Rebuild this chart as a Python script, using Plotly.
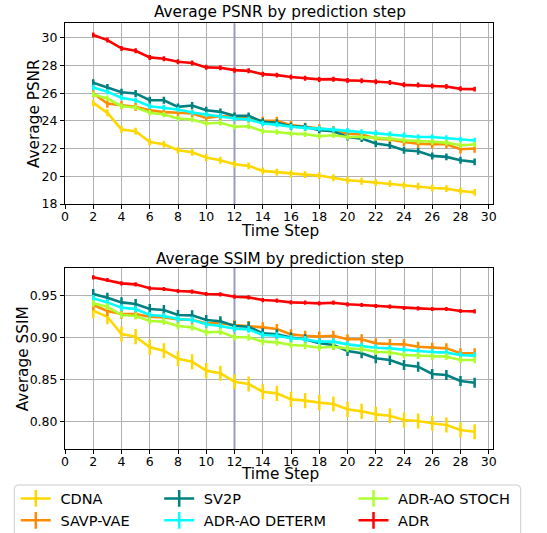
import plotly.graph_objects as go

steps = list(range(2, 30))
names = ["CDNA", "SAVP-VAE", "SV2P", "ADR-AO DETERM", "ADR-AO STOCH", "ADR"]
colors = ["#FFD700", "#FF8C00", "#008080", "#00FFFF", "#ADFF2F", "#FF0000"]

psnr_cdna = [25.30, 24.58, 23.37, 23.25, 22.48, 22.31, 21.88, 21.73, 21.35, 21.16, 20.87, 20.75, 20.39, 20.29,
             20.17, 20.12, 20.05, 19.90, 19.71, 19.64, 19.54, 19.47, 19.35, 19.28, 19.16, 19.11, 18.94, 18.84]
psnr_savp = [25.98, 25.25, 25.13, 25.01, 24.77, 24.63, 24.58, 24.53, 24.22, 24.34, 24.29, 24.17, 24.00, 24.00,
             23.69, 23.57, 23.45, 23.33, 23.08, 23.01, 22.72, 22.65, 22.48, 22.36, 22.31, 22.31, 21.95, 22.00]
psnr_sv2p = [26.75, 26.41, 26.07, 25.98, 25.49, 25.49, 25.01, 25.11, 24.77, 24.65, 24.36, 24.36, 23.93, 23.86,
             23.61, 23.57, 23.33, 23.25, 22.84, 22.72, 22.36, 22.22, 21.88, 21.81, 21.47, 21.40, 21.16, 21.04]
psnr_determ = [26.41, 26.10, 25.66, 25.49, 25.06, 24.96, 24.82, 24.60, 24.46, 24.36, 24.17, 24.10, 23.81, 23.73,
               23.57, 23.49, 23.45, 23.37, 23.28, 23.20, 23.13, 23.04, 22.96, 22.84, 22.84, 22.77, 22.65, 22.58]
psnr_stoch = [25.90, 25.61, 25.06, 24.96, 24.58, 24.46, 24.17, 24.10, 23.81, 23.86, 23.57, 23.61, 23.25, 23.20,
              23.08, 23.04, 22.89, 22.96, 22.84, 22.84, 22.77, 22.72, 22.60, 22.53, 22.48, 22.43, 22.24, 22.29]
psnr_adr = [30.19, 29.83, 29.23, 29.06, 28.58, 28.48, 28.27, 28.17, 27.86, 27.83, 27.66, 27.61, 27.37, 27.30,
            27.16, 27.08, 26.99, 27.01, 26.92, 26.89, 26.82, 26.77, 26.60, 26.58, 26.51, 26.48, 26.31, 26.29]

psnr_err = [0.25, 0.30, 0.25, 0.20, 0.20, 0.18]

ssim_cdna = [0.9321, 0.9249, 0.9042, 0.9011, 0.8883, 0.8843, 0.8748, 0.8712, 0.8605, 0.8573, 0.8473, 0.8445, 0.8354, 0.8334,
             0.8262, 0.8247, 0.8223, 0.8207, 0.8143, 0.8119, 0.8083, 0.8067, 0.8016, 0.8004, 0.7976, 0.7956, 0.7896, 0.7876]
ssim_savp = [0.9389, 0.9317, 0.9281, 0.9281, 0.9249, 0.9241, 0.9217, 0.9210, 0.9170, 0.9170, 0.9150, 0.9138, 0.9122, 0.9102,
             0.9038, 0.9022, 0.9011, 0.9022, 0.8979, 0.8979, 0.8931, 0.8923, 0.8919, 0.8891, 0.8879, 0.8871, 0.8812, 0.8812]
ssim_sv2p = [0.9520, 0.9476, 0.9420, 0.9401, 0.9341, 0.9329, 0.9269, 0.9265, 0.9210, 0.9194, 0.9138, 0.9130, 0.9050, 0.9038,
             0.8999, 0.8979, 0.8931, 0.8911, 0.8839, 0.8812, 0.8752, 0.8732, 0.8672, 0.8652, 0.8565, 0.8553, 0.8481, 0.8461]
ssim_determ = [0.9468, 0.9420, 0.9357, 0.9341, 0.9269, 0.9257, 0.9221, 0.9210, 0.9158, 0.9138, 0.9106, 0.9098, 0.9030, 0.9022,
               0.8991, 0.8979, 0.8951, 0.8951, 0.8919, 0.8899, 0.8879, 0.8871, 0.8851, 0.8839, 0.8827, 0.8820, 0.8792, 0.8784]
ssim_stoch = [0.9408, 0.9369, 0.9269, 0.9257, 0.9198, 0.9190, 0.9138, 0.9122, 0.9062, 0.9070, 0.9003, 0.9003, 0.8951, 0.8943,
              0.8911, 0.8903, 0.8879, 0.8891, 0.8871, 0.8863, 0.8831, 0.8823, 0.8792, 0.8784, 0.8772, 0.8772, 0.8732, 0.8732]
ssim_adr = [0.9719, 0.9687, 0.9647, 0.9635, 0.9588, 0.9580, 0.9556, 0.9548, 0.9520, 0.9516, 0.9488, 0.9480, 0.9448, 0.9440,
            0.9420, 0.9416, 0.9408, 0.9416, 0.9397, 0.9389, 0.9377, 0.9369, 0.9353, 0.9349, 0.9341, 0.9341, 0.9317, 0.9313]

ssim_err = [0.009, 0.006, 0.006, 0.004, 0.004, 0.0025]

x_ticks = list(range(0, 31, 2))
psnr_ticks = list(range(18, 31, 2))
ssim_ticks = [0.80, 0.85, 0.90, 0.95]

psnr_series = [psnr_cdna, psnr_savp, psnr_sv2p, psnr_determ, psnr_stoch, psnr_adr]
ssim_series = [ssim_cdna, ssim_savp, ssim_sv2p, ssim_determ, ssim_stoch, ssim_adr]

W, H = 547, 533
FONT = "DejaVu Sans"

def px_x(p):
    return p / W

def px_y(p):
    return 1 - p / H

fig = go.Figure()

# vertical marker line at step 12 (drawn as a trace so it sits under the data lines)
for xa, ya, rng in [("x", "y", [18, 31.04]), ("x2", "y2", [0.7666, 0.9834])]:
    fig.add_trace(go.Scatter(x=[12, 12], y=rng, mode="lines", showlegend=False, hoverinfo="skip",
                             line=dict(color="#9a9ac8", width=2), xaxis=xa, yaxis=ya))

for i, name in enumerate(names):
    fig.add_trace(go.Scatter(
        x=steps, y=psnr_series[i], mode="lines", name=name, showlegend=False,
        line=dict(color=colors[i], width=2.6),
        error_y=dict(type="data", array=[psnr_err[i]] * len(steps), thickness=2.5, width=0, color=colors[i]),
        xaxis="x", yaxis="y"))
for i, name in enumerate(names):
    fig.add_trace(go.Scatter(
        x=steps, y=ssim_series[i], mode="lines", name=name, showlegend=False,
        line=dict(color=colors[i], width=2.6),
        error_y=dict(type="data", array=[ssim_err[i]] * len(steps), thickness=2.5, width=0, color=colors[i]),
        xaxis="x2", yaxis="y2"))

legend_ids = ["legend", "legend", "legend2", "legend2", "legend3", "legend3"]
for i, name in enumerate(names):
    fig.add_trace(go.Scatter(
        x=[None], y=[None], mode="lines+markers", name="\u00a0" + name, showlegend=True,
        legend=legend_ids[i],
        line=dict(color=colors[i], width=2.6),
        marker=dict(symbol="line-ns-open", size=12, color=colors[i], line=dict(width=2.5, color=colors[i])),
        xaxis="x", yaxis="y"))

xdom = [px_x(65), px_x(493)]
axis_common = dict(showgrid=True, gridcolor="#b0b0b0", gridwidth=1, showline=True, linecolor="black",
                   linewidth=1, mirror=True, ticks="outside", ticklen=4, tickcolor="black", zeroline=False,
                   tickfont=dict(family=FONT, size=12.5, color="black"))

fig.update_layout(
    width=W, height=H, margin=dict(l=0, r=0, t=0, b=0, pad=0, autoexpand=False),
    paper_bgcolor="white", plot_bgcolor="white",
    font=dict(family=FONT, color="black"),
    xaxis=dict(domain=xdom, range=[0, 30.3], tickvals=x_ticks, anchor="y", ticklabelstandoff=-3, **axis_common),
    yaxis=dict(domain=[px_y(204), px_y(23.3)], range=[18, 31.04], tickvals=psnr_ticks, anchor="x", **axis_common),
    xaxis2=dict(domain=xdom, range=[0, 30.3], tickvals=x_ticks, anchor="y2", ticklabelstandoff=-3, **axis_common),
    yaxis2=dict(domain=[px_y(449.3), px_y(267.7)], range=[0.7666, 0.9834], tickvals=ssim_ticks,
                tickformat=".2f", anchor="x2", **axis_common),
)

leg_common = dict(orientation="v", xanchor="left", yanchor="top", bgcolor="rgba(0,0,0,0)", borderwidth=0,
                  font=dict(family=FONT, size=14.5, color="black"), y=px_y(482.5))
fig.update_layout(
    legend=dict(x=px_x(15.8), **leg_common),
    legend2=dict(x=px_x(159.2), **leg_common),
    legend3=dict(x=px_x(353.5), **leg_common),
)

# legend frame
x0, x1 = px_x(14.3), px_x(520.7)
y1, yb = px_y(485), -0.05
rx, ry = 4 / W, 4 / H
path = (f"M {x0},{yb} L {x0},{y1 - ry} Q {x0},{y1} {x0 + rx},{y1} L {x1 - rx},{y1} "
        f"Q {x1},{y1} {x1},{y1 - ry} L {x1},{yb} Z")
fig.add_shape(type="path", xref="paper", yref="paper", path=path,
              fillcolor="rgba(255,255,255,0.8)", line=dict(color="#cccccc", width=1), layer="above")

annos = [
    ("Average PSNR by prediction step", 279.5, 12, 15.3, 0),
    ("Average SSIM by prediction step", 279.5, 259.3, 15.3, 0),
    ("Time Step", 279.5, 231.5, 15.3, 0),
    ("Time Step", 279.5, 473.5, 15.3, 0),
    ("Average PSNR", 33.3, 113.7, 15.3, -90),
    ("Average SSIM", 22.7, 358.5, 15.3, -90),
]
for text, ax, ay, size, rot in annos:
    fig.add_annotation(text=text, xref="paper", yref="paper", x=px_x(ax), y=px_y(ay),
                       xanchor="center", yanchor="middle", showarrow=False, textangle=rot,
                       font=dict(family=FONT, size=size, color="black"))

fig.write_html("out.html")
